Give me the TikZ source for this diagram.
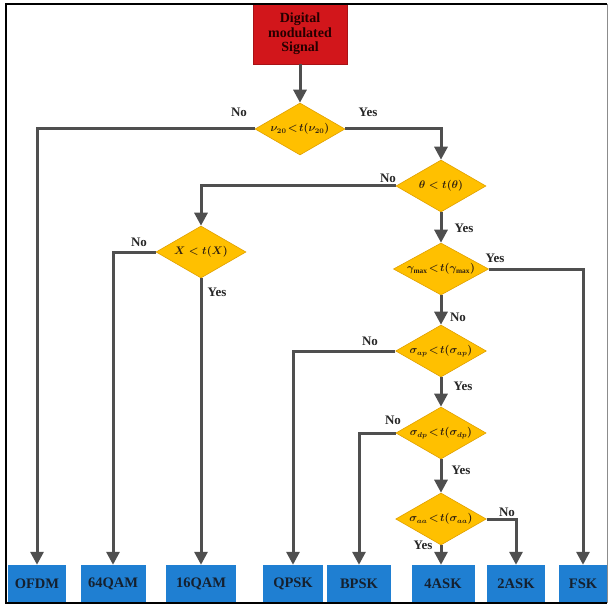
\documentclass[tikz,border=0pt]{standalone}
\usepackage{fontspec}
\setmainfont{Liberation Serif}
\usetikzlibrary{shapes.geometric,arrows.meta}
\definecolor{lin}{HTML}{4F4F4F}
\definecolor{gold}{HTML}{FFC000}
\definecolor{goldedge}{HTML}{E0A000}
\definecolor{bluebox}{HTML}{1F7FD2}
\definecolor{redbox}{HTML}{D2161B}
\definecolor{txtdark}{HTML}{15202E}
\tikzset{
  dia/.style={diamond, fill=gold, draw=goldedge, line width=0.6pt, inner sep=0pt,
    aspect=2.5, minimum width=90pt, minimum height=52pt, text=black!75!brown,
    font=\bfseries\boldmath\fontsize{10.5}{11}\selectfont},
  outbox/.style={rectangle, fill=bluebox, inner sep=0pt, minimum height=37pt,
    text=txtdark, font=\bfseries\fontsize{14.5}{15}\selectfont},
  startbox/.style={rectangle, fill=redbox, draw=redbox!80!black, line width=0.6pt,
    minimum width=94pt, minimum height=60pt, align=center, text=black!85!red,
    font=\bfseries\fontsize{14}{14.5}\selectfont},
  arr/.style={draw=lin, line width=3pt, -{Triangle[width=13pt,length=13pt]}},
  lab/.style={font=\bfseries\fontsize{13}{14}\selectfont, text=black!85, inner sep=0pt}
}
\begin{document}
\begin{tikzpicture}[x=1pt,y=-1pt]
\useasboundingbox (0,0) rectangle (611,607);
% start
\node[startbox] (start) at (300,34) {Digital\\modulated\\Signal};
% diamonds
\node[dia] (d1) at (300,129) {$\nu_{20}\!<\!t(\nu_{20})$};
\node[dia] (d2) at (441,186) {$\theta < t(\theta)$};
\node[dia] (d3) at (201,252) {$X < t(X)$};
\node[dia] (d4) at (441,269) {$\gamma_{\max}\!<\!t(\gamma_{\max})$};
\node[dia] (d5) at (441,351) {$\sigma_{ap}\!<\!t(\sigma_{ap})$};
\node[dia] (d6) at (441,433) {$\sigma_{dp}\!<\!t(\sigma_{dp})$};
\node[dia] (d7) at (441,519) {$\sigma_{aa}\!<\!t(\sigma_{aa})$};
% outputs
\node[outbox, minimum width=58pt] (ofdm) at (37,583.5) {OFDM};
\node[outbox, minimum width=65pt] (q64) at (113,583.5) {64QAM};
\node[outbox, minimum width=70pt] (q16) at (201,583.5) {16QAM};
\node[outbox, minimum width=60pt] (qpsk) at (293,583.5) {QPSK};
\node[outbox, minimum width=64pt] (bpsk) at (359,583.5) {BPSK};
\node[outbox, minimum width=63pt] (ask4) at (443,583.5) {4ASK};
\node[outbox, minimum width=58pt] (ask2) at (516,583.5) {2ASK};
\node[outbox, minimum width=48pt] (fsk) at (583,583.5) {FSK};
% connectors
\draw[arr] (start) -- (d1);
\draw[arr] (d1.west) -| (ofdm.north);
\draw[arr] (d1.east) -| (d2.north);
\draw[arr] (d2.west) -| (d3.north);
\draw[arr] (d3.west) -| (q64.north);
\draw[arr] (d3.south) -- (q16.north -| d3.south);
\draw[arr] (d2.south) -- (d4.north);
\draw[arr] (d4.east) -| (fsk.north);
\draw[arr] (d4.south) -- (d5.north);
\draw[arr] (d5.west) -| (qpsk.north);
\draw[arr] (d5.south) -- (d6.north);
\draw[arr] (d6.west) -| (bpsk.north);
\draw[arr] (d6.south) -- (d7.north);
\draw[arr] (d7.south) -- (ask4.north -| d7.south);
\draw[arr] (d7.east) -| (ask2.north);
% labels
\node[lab] (l1) at (239,112) {No};
\node[lab] (l2) at (368,112) {Yes};
\node[lab] (l3) at (388,178) {No};
\node[lab] (l4) at (464,228) {Yes};
\node[lab] (l5) at (139,242) {No};
\node[lab] (l6) at (217,292) {Yes};
\node[lab] (l7) at (495,258) {Yes};
\node[lab] (l8) at (458,317) {No};
\node[lab] (l9) at (370,341) {No};
\node[lab] (l10) at (463,386) {Yes};
\node[lab] (l11) at (393,420) {No};
\node[lab] (l12) at (461,470) {Yes};
\node[lab] (l13) at (507,512) {No};
\node[lab] (l14) at (423,545) {Yes};
% frame
\coordinate (tl) at (6,4);
\coordinate (tr) at (607,4);
\coordinate (bl) at (6,603);
\coordinate (br) at (607,603);
\draw[line width=2.8pt, black] (tr) -- (tl) -- (bl) -- (br);
\draw[line width=1pt, black!45] (tr) -- (br);
\end{tikzpicture}
\end{document}
